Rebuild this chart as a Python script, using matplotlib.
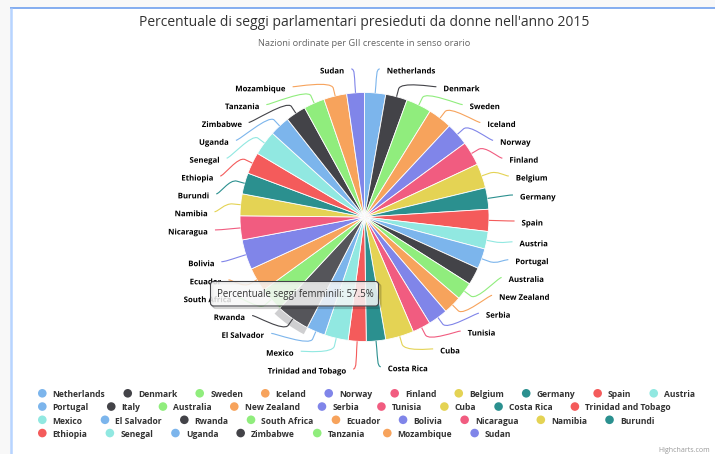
import numpy as np
import matplotlib
matplotlib.use('Agg')
import matplotlib.pyplot as plt
from matplotlib.patches import Wedge, FancyBboxPatch, Rectangle, Circle, PathPatch
from matplotlib.path import Path
from matplotlib.font_manager import FontProperties
import matplotlib.patheffects as pe
import matplotlib.colors as mcolors

# ---------------- data ----------------
countries = ["Netherlands", "Denmark", "Sweden", "Iceland", "Norway", "Finland",
             "Belgium", "Germany", "Spain", "Austria", "Portugal", "Italy",
             "Australia", "New Zealand", "Serbia", "Tunisia", "Cuba", "Costa Rica",
             "Trinidad and Tobago", "Mexico", "El Salvador", "Rwanda", "South Africa",
             "Ecuador", "Bolivia", "Nicaragua", "Namibia", "Burundi", "Ethiopia",
             "Senegal", "Uganda", "Zimbabwe", "Tanzania", "Mozambique", "Sudan"]
women_share = [36.4, 37.4, 43.6, 41.3, 39.6, 41.5,
               42.4, 36.9, 38.0, 30.3, 34.8, 30.1,
               30.5, 31.4, 34.0, 31.3, 48.9, 33.3,
               31.0, 41.0, 32.1, 57.5, 41.1,
               41.6, 51.8, 41.3, 37.7, 36.4, 37.3,
               42.7, 35.0, 35.1, 36.0, 39.6, 30.5]
palette = ['#7cb5ec', '#434348', '#90ed7d', '#f7a35c', '#8085e9',
           '#f15c80', '#e4d354', '#2b908f', '#f45b5b', '#91e8e1']
title = "Percentuale di seggi parlamentari presieduti da donne nell'anno 2015"
subtitle = "Nazioni ordinate per GII crescente in senso orario"
tooltip_label = "Percentuale seggi femminili"
hovered = "Rwanda"
credit = "Highcharts.com"

# ---------------- layout ----------------
W, H = 715, 454
CX, CY, R = 364.5, 217.0, 124.5
RL = R + 23.0          # label circle
CONN_OFF = 8.0
LAB_H = 17.85
TOP_B, BOT_B = 60.0, 378.0
FAMILY = 'Open Sans'

fig = plt.figure(figsize=(W / 100, H / 100), dpi=100)
fig.patch.set_facecolor('#f8f8f8')
ax = fig.add_axes([0, 0, 1, 1])
renderer = fig.canvas.get_renderer()


def text_w(s, size, weight='normal'):
    fp = FontProperties(family=FAMILY, size=size, weight=weight)
    w, h, d = renderer.get_text_width_height_descent(s, fp, ismath=False)
    return w


def fit_size(s, target_px, weight='normal'):
    return 10.0 * target_px / text_w(s, 10.0, weight)


def brighten(c, amt):
    r, g, b = mcolors.to_rgb(c)
    return (min(1, r + amt), min(1, g + amt), min(1, b + amt))


label_fs = fit_size('Netherlands', 48.7, 'bold')
legend_fs = fit_size('Netherlands', 53.3, 'bold')
title_fs = fit_size(title, 450.7)
sub_fs = fit_size(subtitle, 214.3)
ih = countries.index(hovered)
tip_text = f"{tooltip_label}: {women_share[ih]}%"
tip_fs = fit_size(tip_text, 156.7)
credit_fs = fit_size(credit, 51)

n = len(countries)
colors = [palette[i % len(palette)] for i in range(n)]
pie_colors = list(colors)
pie_colors[ih] = brighten(colors[ih], 0.07)

# background / frame
ax.add_patch(Rectangle((11, 8), W, H, facecolor='white', edgecolor='none', zorder=0))
ax.plot([10, W], [8, 8], color='#6fa0ee', lw=1.2, zorder=1, solid_capstyle='butt')
ax.plot([11, 11], [8, H], color='#b7d4ff', lw=1.8, zorder=1, solid_capstyle='butt')

# pie
wedges, _ = ax.pie(women_share, colors=pie_colors, startangle=-90, counterclock=True,
                   radius=R, center=(CX, CY), frame=True,
                   wedgeprops=dict(edgecolor='white', linewidth=0.6))
for w in wedges:
    w.set_zorder(3)

# halo on hovered slice
wh = wedges[ih]
ax.add_patch(Wedge((CX, CY), R + 7.5, wh.theta1, wh.theta2, width=7.5,
                   facecolor=colors[ih], alpha=0.25, lw=0, zorder=2))

mids = [np.deg2rad((w.theta1 + w.theta2) / 2.0) for w in wedges]


def layout_half(idxs):
    length = BOT_B - TOP_B
    boxes = [dict(i=i, target=CY + RL * np.sin(mids[i]) - TOP_B, size=LAB_H,
                  rank=women_share[i]) for i in idxs]
    total = sum(b['size'] for b in boxes)
    if total > length:
        srt = sorted(boxes, key=lambda b: -b['rank'])
        acc, k = 0, 0
        while acc <= length:
            acc += srt[k]['size']
            k += 1
        keep = srt[:k - 1]
    else:
        keep = list(boxes)
    keep.sort(key=lambda b: b['target'])
    groups = [dict(size=b['size'], targets=[b['target']]) for b in keep]
    overlapping = True
    while overlapping:
        for g in groups:
            t = (min(g['targets']) + max(g['targets'])) / 2.0
            g['pos'] = min(max(0, t - g['size'] / 2.0), length - g['size'])
        overlapping = False
        i = len(groups) - 1
        while i > 0:
            if groups[i - 1]['pos'] + groups[i - 1]['size'] > groups[i]['pos'] + 1e-9:
                groups[i - 1]['size'] += groups[i]['size']
                groups[i - 1]['targets'] += groups[i]['targets']
                if groups[i - 1]['pos'] + groups[i - 1]['size'] > length:
                    groups[i - 1]['pos'] = length - groups[i - 1]['size']
                groups.pop(i)
                overlapping = True
            i -= 1
    res = {}
    k = 0
    for g in groups:
        off = 0
        for _ in g['targets']:
            b = keep[k]
            res[b['i']] = TOP_B + g['pos'] + off + b['size'] / 2.0
            off += b['size']
            k += 1
    return res


right_idx = [i for i in range(n) if np.cos(mids[i]) >= 0]
left_idx = [i for i in range(n) if np.cos(mids[i]) < 0]
outline = [pe.withStroke(linewidth=1.3, foreground='white')]

for idxs, sgn in ((right_idx, 1), (left_idx, -1)):
    pos = layout_half(idxs)
    shown = sorted(pos.keys(), key=lambda i: pos[i])
    for j, i in enumerate(shown):
        m = mids[i]
        y = pos[i]
        ynat = CY + RL * np.sin(m)
        yx = ynat if (j == 0 or j == len(shown) - 1) else y
        dy = yx - CY
        xoff = np.sqrt(max(RL ** 2 - dy ** 2, 0.0))
        xg = CX + sgn * (xoff - 1.0)
        A = (xg + sgn * 3.6, y)
        Cp = (CX + R * np.cos(m), CY + R * np.sin(m))
        Bp = (CX + (R + CONN_OFF) * np.cos(m), CY + (R + CONN_OFF) * np.sin(m))
        ctrl2 = (2 * Bp[0] - Cp[0], 2 * Bp[1] - Cp[1])
        path = Path([A, (xg, y), ctrl2, Bp, Cp],
                    [Path.MOVETO, Path.CURVE4, Path.CURVE4, Path.CURVE4, Path.LINETO])
        ax.add_patch(PathPatch(path, facecolor='none', edgecolor=colors[i],
                               lw=0.8, zorder=4))
        ax.text(xg + sgn * 10.6, y + 1.0, countries[i], ha='left' if sgn > 0 else 'right',
                va='center_baseline', fontsize=label_fs, fontweight='bold',
                color='black', family=FAMILY, zorder=5, path_effects=outline)

# title / subtitle
ax.text(363.7, 22.7, title, ha='center', va='center', fontsize=title_fs,
        color='#333333', family=FAMILY, zorder=6)
ax.text(364.0, 43.0, subtitle, ha='center', va='center', fontsize=sub_fs,
        color='#666666', family=FAMILY, zorder=6)

# legend
x0 = 38.0
x = x0
row = 0
limit = 712.0
for i, name in enumerate(countries):
    tw = text_w(name, legend_fs, 'bold')
    item_w = 8.6 + 6.1 + tw
    if x + item_w > limit and x > x0:
        row += 1
        x = x0
    yrow = 393.3 + row * 13.25
    ax.add_patch(Circle((x + 4.3, yrow), 4.3, facecolor=colors[i], lw=0, zorder=6))
    ax.text(x + 14.7, yrow + 0.3, name, ha='left', va='center_baseline', fontsize=legend_fs,
            fontweight='bold', color='#333333', family=FAMILY, zorder=6)
    x += item_w + 18.0

# credit
ax.text(710, 450, credit, ha='right', va='center', fontsize=credit_fs,
        color='#999999', family=FAMILY, zorder=6)

# tooltip
bx, by, bw, bh = 210.5, 281.5, 168.0, 24.5
for k in (3, 2, 1):
    ax.add_patch(FancyBboxPatch((bx + k * 0.8, by + k * 0.8), bw, bh,
                                boxstyle='round,pad=0,rounding_size=3',
                                facecolor='none', edgecolor=(0, 0, 0, 0.05 * k),
                                lw=1.0, zorder=7))
ax.add_patch(FancyBboxPatch((bx, by), bw, bh, boxstyle='round,pad=0,rounding_size=3',
                            facecolor=(0.969, 0.969, 0.969, 0.85),
                            edgecolor=colors[ih], lw=0.8, zorder=8))
ax.text(bx + 6.2, 292.5, tip_text, ha='left', va='center_baseline', fontsize=tip_fs,
        color='#333333', family=FAMILY, zorder=9)

ax.set_xlim(0, W)
ax.set_ylim(H, 0)
ax.set_aspect('auto')
ax.axis('off')

fig.savefig('out.png', dpi=100, facecolor=fig.get_facecolor())
